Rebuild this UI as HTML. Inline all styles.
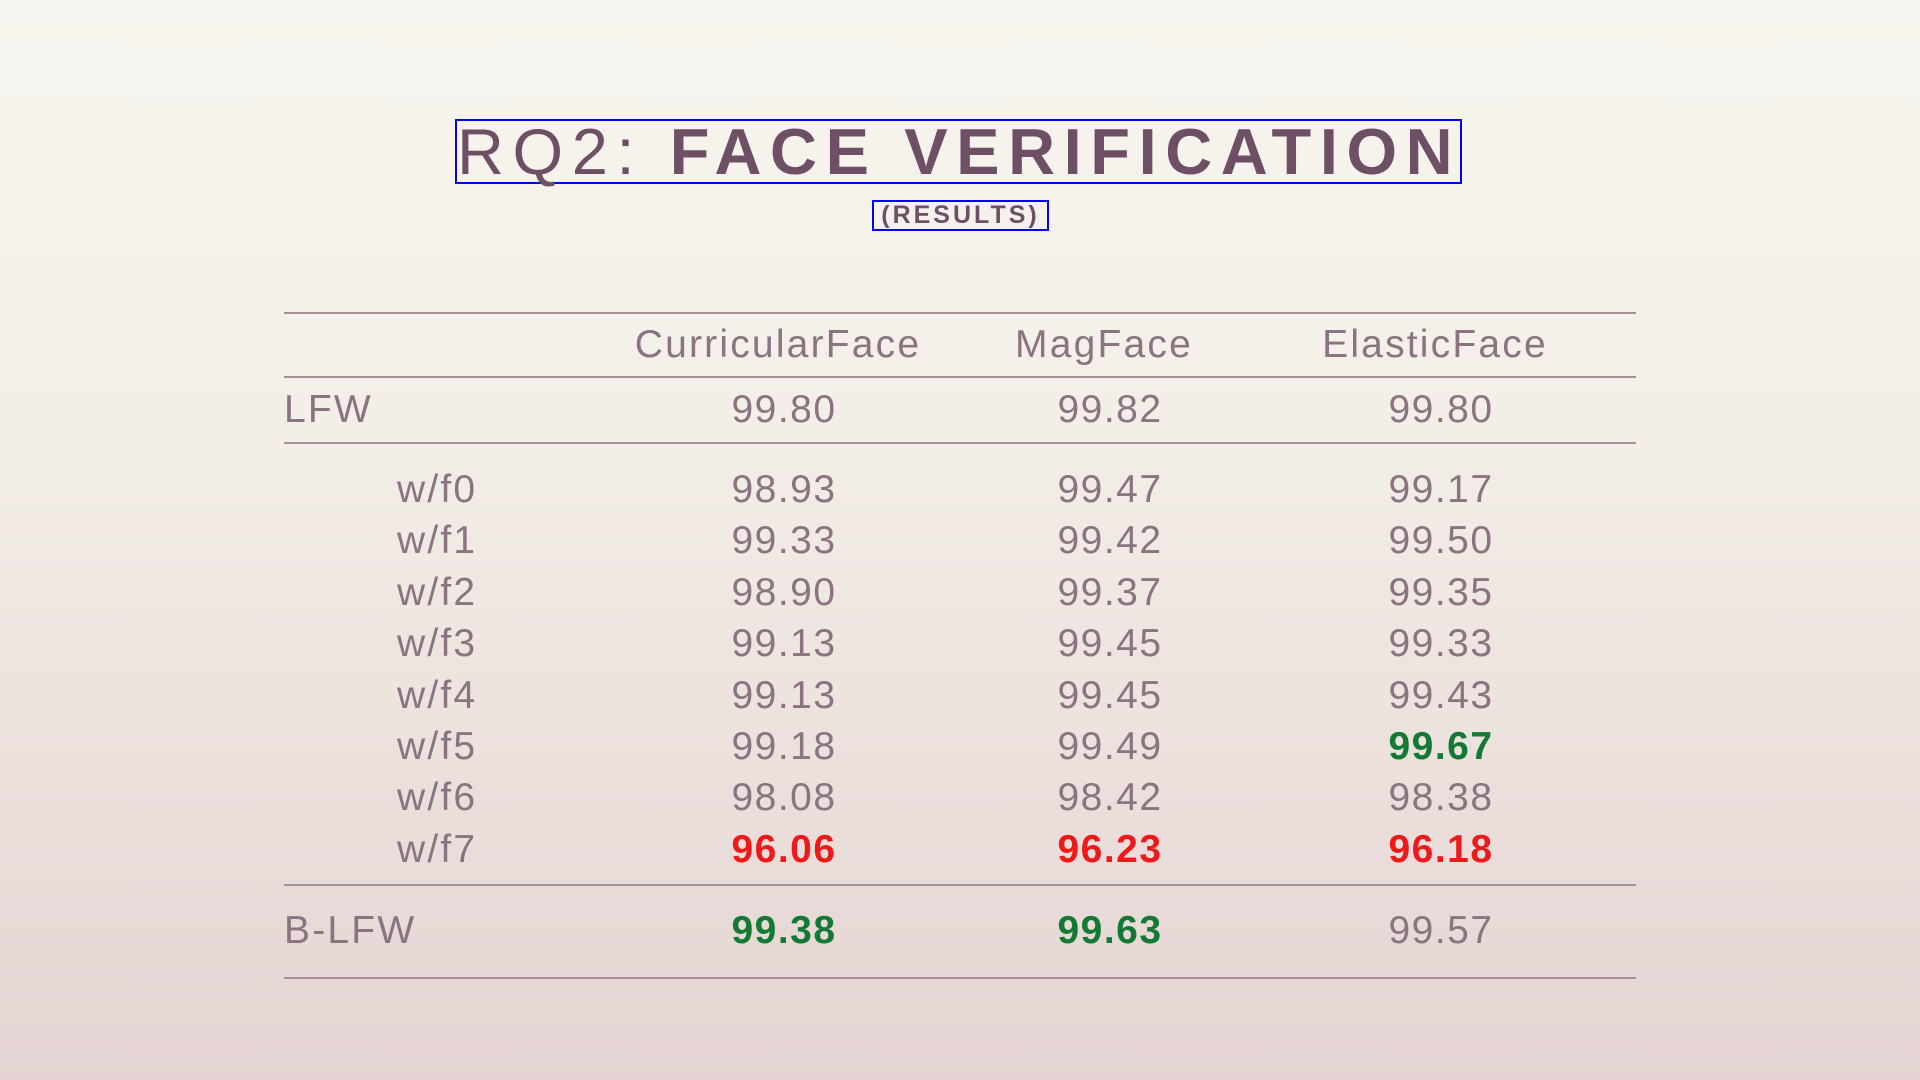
<!DOCTYPE html>
<html><head><meta charset="utf-8"><style>
body{margin:0;width:1920px;height:1080px;overflow:hidden;font-family:"Liberation Sans",sans-serif;
background:linear-gradient(#f7f5ef 0%,#f3eee8 40%,#e4d3d2 100%);position:relative}
.abs{position:absolute}
#title{left:455px;top:119px;width:1003px;height:61px;border:2px solid #0000ff;color:#6e4f66;font-size:65px;line-height:61px;text-align:center;white-space:nowrap;letter-spacing:8.6px;text-indent:0}
#sub{left:872px;top:200px;width:173px;height:27px;border:2px solid #0000ff;color:#6e4f66;font-size:25px;font-weight:bold;line-height:27px;text-align:center;letter-spacing:3px}
.line{position:absolute;left:284px;width:1352px;height:2px;background:#a88f95}
.t{position:absolute;color:#8a7480;font-size:39px;line-height:40px;white-space:nowrap;letter-spacing:1.5px;transform:translateY(-20px)}
.h{letter-spacing:2.2px}
.c{transform:translate(-50%,-20px)}
.g{color:#137a34;font-weight:bold}
.r{color:#ee1a1a;font-weight:bold}
</style></head><body>
<div id="title" class="abs"><span style="font-weight:normal">RQ2: </span><b>FACE VERIFICATION</b></div>
<div id="sub" class="abs">(RESULTS)</div>
<div class="line" style="top:312px"></div>
<div class="line" style="top:376px"></div>
<div class="line" style="top:442px"></div>
<div class="line" style="top:884px"></div>
<div class="line" style="top:977px"></div>
<div id="tbl"></div>
<script>
const models=["CurricularFace","MagFace","ElasticFace"];
const rowLabels=["LFW","w/f0","w/f1","w/f2","w/f3","w/f4","w/f5","w/f6","w/f7","B-LFW"];
const curricular=["99.80","98.93","99.33","98.90","99.13","99.13","99.18","98.08","96.06","99.38"];
const magface=["99.82","99.47","99.42","99.37","99.45","99.45","99.49","98.42","96.23","99.63"];
const elastic=["99.80","99.17","99.50","99.35","99.33","99.43","99.67","98.38","96.18","99.57"];
const highlights={"8":["r","r","r"],"6":["","","g"],"9":["g","g",""]};
const rowY=[410,490,541,593,644,696,747,798,850,931];
const colX=[784,1110,1441], headX=[778,1104,1435];
const tbl=document.getElementById('tbl');
function add(txt,cls,x,y){const d=document.createElement('div');d.className='t '+cls;d.textContent=txt;d.style.left=x+'px';d.style.top=y+'px';tbl.appendChild(d);return d;}
models.forEach((m,i)=>{const d=add(m,'c h',headX[i],345);

});
const series=[curricular,magface,elastic];
rowLabels.forEach((lab,r)=>{
 const indent=(r>0&&r<9)?397:284;
 const d=add(lab,'h',indent,rowY[r]);
 
 
 series.forEach((s,c)=>{const h=highlights[r]?highlights[r][c]:'';
  const v=add(s[r],'c '+h,colX[c],rowY[r]);
  
  });
});
</script>
</body></html>
